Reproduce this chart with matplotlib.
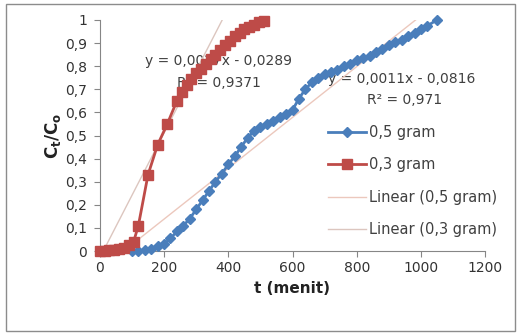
import matplotlib
matplotlib.use('Agg')
import matplotlib.pyplot as plt
import numpy as np
from matplotlib.patches import Rectangle

plt.rcParams['font.family'] = ['DejaVu Sans']
plt.rcParams['mathtext.fontset'] = 'dejavusans'

# Data

t_05 = [100, 120, 140, 160, 180, 200, 220, 240, 260, 280, 300, 320, 340, 360,
        380, 400, 420, 440, 460, 480, 500, 520, 540, 560, 580, 600, 620, 640,
        660, 680, 700, 720, 740, 760, 780, 800, 820, 840, 860, 880, 900, 920,
        940, 960, 980, 1000, 1020, 1050]
c_05 = [0.0, 0.0, 0.005, 0.01, 0.02, 0.03, 0.055, 0.085, 0.11, 0.14, 0.18, 0.22,
        0.26, 0.30, 0.335, 0.375, 0.41, 0.45, 0.49, 0.52, 0.535, 0.55, 0.565,
        0.58, 0.595, 0.61, 0.66, 0.70, 0.73, 0.75, 0.765, 0.775, 0.785, 0.80,
        0.81, 0.825, 0.835, 0.845, 0.86, 0.875, 0.89, 0.905, 0.915, 0.93,
        0.945, 0.96, 0.975, 1.0]

t_03 = [0, 15, 30, 45, 60, 75, 90, 105, 120, 150, 180, 210, 240, 255, 270, 285,
        300, 315, 330, 345, 360, 375, 390, 405, 420, 435, 450, 465, 480, 495, 510]
c_03 = [0.0, 0.0, 0.005, 0.005, 0.01, 0.015, 0.025, 0.04, 0.11, 0.33, 0.46, 0.55,
        0.65, 0.69, 0.72, 0.745, 0.77, 0.79, 0.81, 0.83, 0.85, 0.87, 0.89, 0.91,
        0.93, 0.945, 0.96, 0.97, 0.98, 0.99, 0.995]

# linear trendlines (slope, intercept) as printed on chart
fit_05 = (0.0011, -0.0816)
fit_03 = (0.0027, -0.0289)

fig = plt.figure(figsize=(5.2, 3.33), dpi=100)
ax = fig.add_axes([0.192, 0.246, 0.741, 0.694])

# trendline labels (drawn under the series, like in the original)
ax.text(368, 0.823, 'y = 0,0027x - 0,0289', fontsize=10, color='#404040', ha='center', va='center', zorder=1)
ax.text(371, 0.727, 'R² = 0,9371', fontsize=10, color='#404040', ha='center', va='center', zorder=1)
ax.text(941, 0.745, 'y = 0,0011x - 0,0816', fontsize=10, color='#404040', ha='center', va='center', zorder=1)
ax.text(950, 0.654, 'R² = 0,971', fontsize=10, color='#404040', ha='center', va='center', zorder=1)

ax.plot(t_05, c_05, color='#4a7ebb', marker='D', markersize=5, lw=2, label='0,5 gram', clip_on=False, zorder=4)
ax.plot(t_03, c_03, color='#be4b48', marker='s', markersize=7, lw=2, label='0,3 gram', clip_on=False, zorder=5)

x5 = np.array([t_05[0], t_05[-1]])
ax.plot(x5, fit_05[0]*x5 + fit_05[1], color='#ecc8bd', lw=1, label='Linear (0,5 gram)', zorder=3)
x3 = np.array([t_03[0], t_03[-1]])
ax.plot(x3, fit_03[0]*x3 + fit_03[1], color='#dcc6bf', lw=1, label='Linear (0,3 gram)', zorder=3)

ax.set_xlim(0, 1200)
ax.set_ylim(0, 1)
ax.set_xticks(range(0, 1201, 200))
yt = np.arange(0, 1.01, 0.1)
ax.set_yticks(yt)
ax.set_yticklabels(['0'] + [('%.1f' % v).replace('.', ',') for v in yt[1:-1]] + ['1'])

for s in ['top', 'right']:
    ax.spines[s].set_visible(False)
for s in ['left', 'bottom']:
    ax.spines[s].set_color('#868686')
ax.tick_params(axis='both', colors='#868686', labelcolor='#333333', labelsize=10, length=4, direction='out')
ax.tick_params(axis='y', pad=5)

ax.set_xlabel('t (menit)', fontsize=11, fontweight='bold', color='#222222', labelpad=4)
ax.set_ylabel(r'$\mathbf{C_t/C_o}$', fontsize=12, color='#222222', labelpad=2)

leg = ax.legend(loc='upper left', bbox_to_anchor=(0.566, 0.59), fontsize=10.5, frameon=True,
                facecolor='white', edgecolor='white', framealpha=1, handlelength=2.6,
                labelspacing=1.2, handletextpad=0.2, borderpad=0.2)
for txt in leg.get_texts():
    txt.set_color('#404040')

fig.patches.append(Rectangle((6/520, 2/333), 509/520, 327/333, transform=fig.transFigure,
                             fill=False, edgecolor='#8c8c8c', lw=1))

fig.savefig('out.png', dpi=100)
